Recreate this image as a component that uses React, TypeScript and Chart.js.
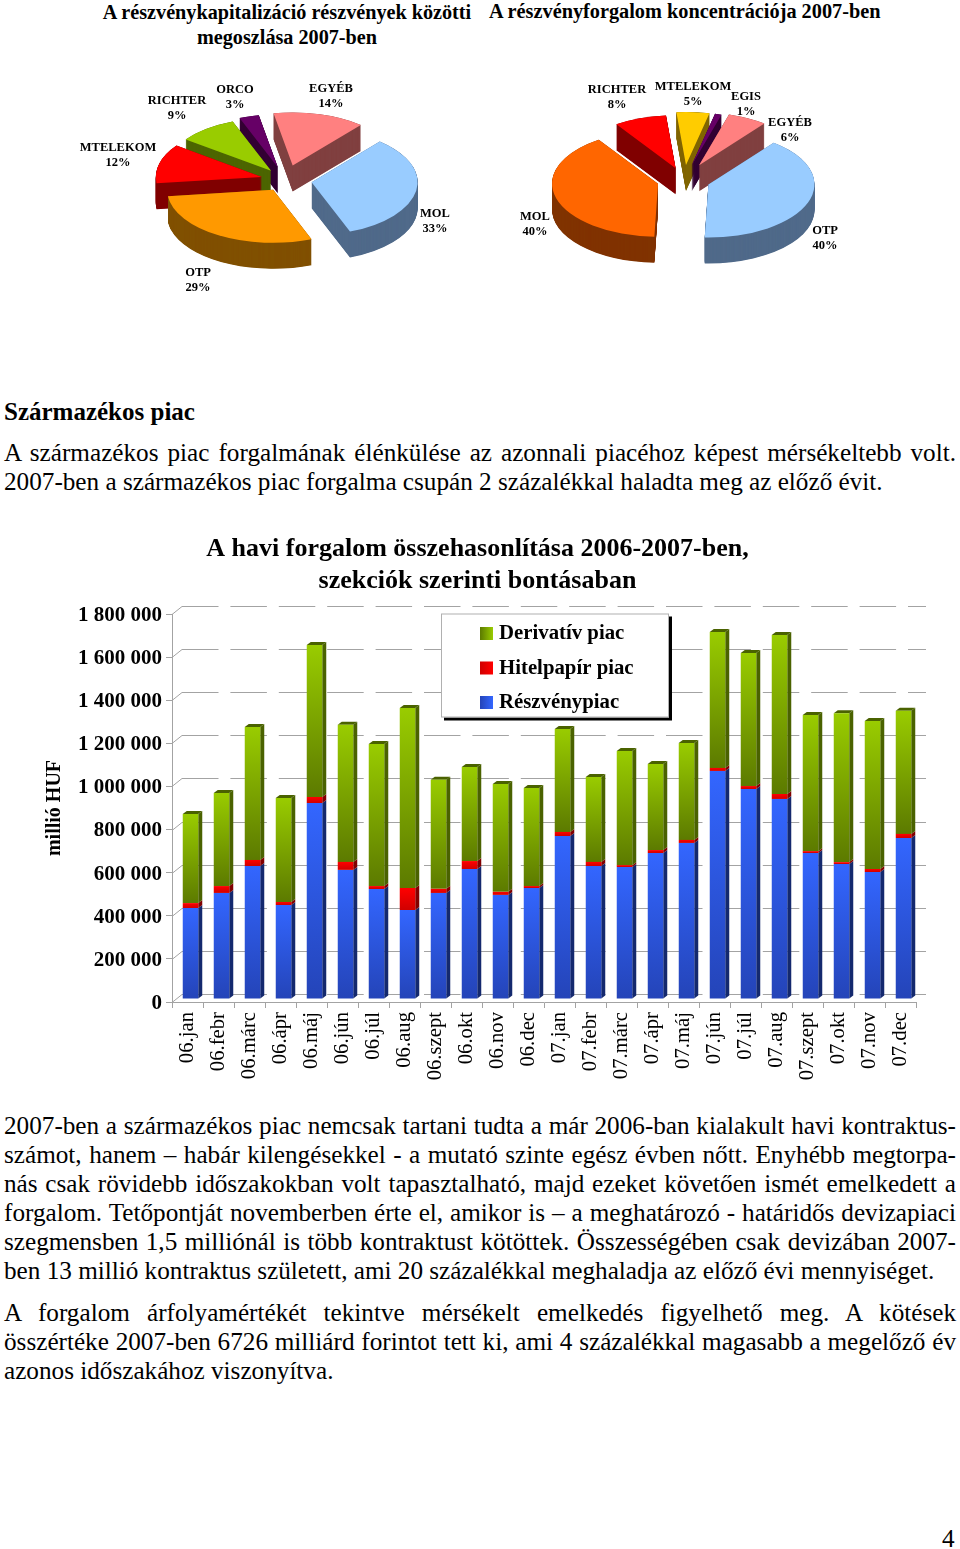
import React, { useEffect, useRef } from "react";
import { Chart, registerables } from "chart.js";

Chart.register(...registerables);

const FONT = '"Liberation Serif", "Times New Roman", serif';

// ---- Data ----
const CAP_LABELS = ["MOL", "OTP", "MTELEKOM", "RICHTER", "ORCO", "EGYÉB"];
const CAP_VALUES = [33, 29, 12, 9, 3, 14];
const CAP_COLORS = ["#99ccff", "#ff9900", "#ff0000", "#99cc00", "#660066", "#ff8080"];
const CAP_DEPTH = ["#506a8a", "#805000", "#800000", "#4d6600", "#330033", "#804040"];
const CAP_OFFSETS = [27, 23, 24, 23, 26, 30];
const CAP_LABEL_POS = [[435, 214], [198, 273], [118, 148], [177, 101], [235, 90], [331, 89]];

const TURN_LABELS = ["OTP", "MOL", "RICHTER", "MTELEKOM", "EGIS", "EGYÉB"];
const TURN_VALUES = [40, 40, 8, 5, 1, 6];
const TURN_COLORS = ["#99ccff", "#ff6600", "#ff0000", "#ffcc00", "#660066", "#ff8080"];
const TURN_DEPTH = ["#506a8a", "#803300", "#800000", "#806600", "#330033", "#804040"];
const TURN_OFFSETS = [26, 27, 25, 30, 30, 33];
const TURN_LABEL_POS = [[825, 231], [535, 217], [617, 90], [693, 87], [746, 97], [790, 123]];

const MONTHS = [
  "06.jan", "06.febr", "06.márc", "06.ápr", "06.máj", "06.jún", "06.júl", "06.aug", "06.szept", "06.okt", "06.nov", "06.dec",
  "07.jan", "07.febr", "07.márc", "07.ápr", "07.máj", "07.jún", "07.júl", "07.aug", "07.szept", "07.okt", "07.nov", "07.dec",
];
const EQUITY = [422000, 492000, 617000, 436000, 909000, 599000, 510000, 413000, 492000, 603000, 483000, 515000,
  756000, 617000, 612000, 677000, 724000, 1058000, 974000, 928000, 677000, 626000, 589000, 747000];
const DEBT = [23000, 32000, 28000, 14000, 28000, 37000, 14000, 102000, 19000, 37000, 14000, 9000,
  19000, 19000, 9000, 14000, 14000, 14000, 14000, 23000, 9000, 9000, 14000, 19000];
const DERIV = [413000, 432000, 617000, 483000, 705000, 636000, 659000, 835000, 506000, 436000, 501000, 455000,
  478000, 394000, 529000, 399000, 450000, 631000, 617000, 738000, 631000, 691000, 687000, 571000];

const BODY_TOP = [
  "A származékos piac forgalmának élénkülése az azonnali piacéhoz képest mérsékeltebb volt.",
  "2007-ben a származékos piac forgalma csupán 2 százalékkal haladta meg az előző évit.",
];
const BODY_BOTTOM = [
  "2007-ben a származékos piac nemcsak tartani tudta a már 2006-ban kialakult havi kontraktus-",
  "számot, hanem – habár kilengésekkel - a mutató szinte egész évben nőtt. Enyhébb megtorpa-",
  "nás csak rövidebb időszakokban volt tapasztalható, majd ezeket követően ismét emelkedett a",
  "forgalom. Tetőpontját novemberben érte el, amikor is – a meghatározó - határidős devizapiaci",
  "szegmensben 1,5 milliónál is több kontraktust kötöttek. Összességében csak devizában 2007-",
];
const BODY_BOTTOM_LAST = "ben 13 millió kontraktus született, ami 20 százalékkal meghaladja az előző évi mennyiséget.";
const BODY_PARA2 = [
  "A forgalom árfolyamértékét tekintve mérsékelt emelkedés figyelhető meg. A kötések",
  "összértéke 2007-ben 6726 milliárd forintot tett ki, ami 4 százalékkal magasabb a megelőző év",
];
const BODY_PARA2_LAST = "azonos időszakához viszonyítva.";

// ---- Pie ----
const SQUASH = 0.5;
const PIE_DEPTH = 26;

function makePiePlugin(depthColors: string[], offsets: number[], labelPos: number[][], labels: string[], values: number[], pageLeft: number, pageTop: number) {
  return {
    id: "pie3d",
    afterDatasetsUpdate(chart: any) {
      chart.getDatasetMeta(0).data.forEach((a: any, i: number) => {
        const mid = (a.startAngle + a.endAngle) / 2;
        a.x += Math.cos(mid) * offsets[i];
        a.y += Math.sin(mid) * offsets[i];
      });
    },
    beforeDatasetsDraw(chart: any) {
      const ctx = chart.ctx;
      const arcs = chart.getDatasetMeta(0).data;
      const cx = (chart.chartArea.left + chart.chartArea.right) / 2;
      const cy = (chart.chartArea.top + chart.chartArea.bottom) / 2;
      ctx.save();
      ctx.translate(cx, cy);
      ctx.scale(1, SQUASH);
      ctx.translate(-cx, -cy);
      const order = arcs
        .map((a: any, i: number) => ({ a, i, s: Math.sin((a.startAngle + a.endAngle) / 2) }))
        .sort((p: any, q: any) => p.s - q.s);
      for (const { a, i } of order) {
        ctx.fillStyle = depthColors[i];
        for (let d = PIE_DEPTH; d >= 0; d -= 0.5) {
          ctx.beginPath();
          ctx.moveTo(a.x, a.y + d / SQUASH);
          ctx.arc(a.x, a.y + d / SQUASH, a.outerRadius, a.startAngle, a.endAngle);
          ctx.closePath();
          ctx.fill();
        }
      }
    },
    afterDatasetsDraw(chart: any) {
      const ctx = chart.ctx;
      ctx.restore();
      ctx.save();
      ctx.fillStyle = "#000";
      ctx.font = `bold 12.5px ${FONT}`;
      ctx.textAlign = "center";
      ctx.textBaseline = "middle";
      labels.forEach((l, i) => {
        const [x, y] = labelPos[i];
        ctx.fillText(l, x - pageLeft, y - pageTop);
        ctx.fillText(`${values[i]}%`, x - pageLeft, y - pageTop + 15);
      });
      ctx.restore();
    },
  };
}

function Pie(props: { left: number; width: number; labels: string[]; values: number[]; colors: string[]; depth: string[]; offsets: number[]; pos: number[][]; rotation: number }) {
  const ref = useRef<HTMLCanvasElement>(null);
  useEffect(() => {
    const chart = new Chart(ref.current!, {
      type: "pie",
      data: {
        labels: props.labels,
        datasets: [{
          data: props.values,
          backgroundColor: props.colors,
          borderWidth: 0,
          radius: 106,
        } as any],
      },
      options: {
        responsive: false,
        animation: false,
        rotation: props.rotation,
        events: [],
        plugins: { legend: { display: false }, tooltip: { enabled: false } },
      },
      plugins: [makePiePlugin(props.depth, props.offsets, props.pos, props.labels, props.values, props.left, 60)],
    } as any);
    return () => chart.destroy();
  }, []);
  return <canvas ref={ref} width={props.width} height={240} style={{ position: "absolute", left: props.left, top: 60, width: props.width, height: 240 }} />;
}

// ---- Bars ----
const BAR_SHIFT_X = 3;
const BAR_SHIFT_Y = -3;
const SIDE_X = 4;
const SIDE_Y = -3;
const WALL_X = 10;
const WALL_Y = -8;
const GRID = "#a3a3a3";

const SERIES = [
  { label: "Részvénypiac", data: EQUITY, top: "#3366ff", bottom: "#2444b8", side: "#14296e" },
  { label: "Hitelpapír piac", data: DEBT, top: "#ff0000", bottom: "#d00000", side: "#800000" },
  { label: "Derivatív piac", data: DERIV, top: "#99cc00", bottom: "#5c7a00", side: "#4a6200" },
];

const bar3d = {
  id: "bar3d",
  beforeDatasetsDraw(chart: any) {
    const ctx = chart.ctx;
    const { left, right } = chart.chartArea;
    const y = chart.scales.y;
    ctx.save();
    ctx.strokeStyle = GRID;
    ctx.lineWidth = 1;
    y.ticks.forEach((t: any) => {
      const py = Math.round(y.getPixelForValue(t.value)) + 0.5;
      ctx.setLineDash([]);
      ctx.beginPath();
      ctx.moveTo(left, py);
      ctx.lineTo(left + WALL_X, py + WALL_Y);
      ctx.stroke();
      ctx.setLineDash([36.5, 11.9]);
      ctx.beginPath();
      ctx.moveTo(left + WALL_X, py + WALL_Y);
      ctx.lineTo(right + WALL_X, py + WALL_Y);
      ctx.stroke();
    });
    ctx.setLineDash([]);
    ctx.restore();

    ctx.save();
    ctx.translate(BAR_SHIFT_X, BAR_SHIFT_Y);
    const n = chart.data.datasets.length;
    for (let di = 0; di < n; di++) {
      const meta = chart.getDatasetMeta(di);
      ctx.fillStyle = SERIES[di].side;
      meta.data.forEach((b: any) => {
        const r = b.x + b.width / 2;
        const l = b.x - b.width / 2;
        ctx.beginPath();
        ctx.moveTo(r, b.base);
        ctx.lineTo(r + SIDE_X, b.base + SIDE_Y);
        ctx.lineTo(r + SIDE_X, b.y + SIDE_Y);
        ctx.lineTo(r, b.y);
        ctx.closePath();
        ctx.fill();
        if (di === n - 1) {
          ctx.beginPath();
          ctx.moveTo(l, b.y);
          ctx.lineTo(l + SIDE_X, b.y + SIDE_Y);
          ctx.lineTo(r + SIDE_X, b.y + SIDE_Y);
          ctx.lineTo(r, b.y);
          ctx.closePath();
          ctx.fill();
        }
      });
    }
  },
  afterDatasetsDraw(chart: any) {
    const ctx = chart.ctx;
    ctx.restore();
    // legend box
    const boxX = 441, boxY = 83.5, boxW = 228, boxH = 104;
    ctx.save();
    ctx.fillStyle = "#000";
    ctx.fillRect(boxX + 3, boxY + 3, boxW, boxH);
    ctx.fillStyle = "#fff";
    ctx.fillRect(boxX, boxY, boxW, boxH);
    ctx.strokeStyle = "#b0b0b0";
    ctx.lineWidth = 1;
    ctx.strokeRect(boxX + 0.5, boxY + 0.5, boxW - 1, boxH - 1);
    const rows = [...SERIES].reverse();
    ctx.font = `bold 20.8px ${FONT}`;
    ctx.textBaseline = "middle";
    ctx.textAlign = "left";
    rows.forEach((s, i) => {
      const cy = boxY + 20.5 + i * 34.5;
      const g = ctx.createLinearGradient(480, 0, 493, 0);
      g.addColorStop(0, s.bottom);
      g.addColorStop(1, s.top);
      ctx.fillStyle = g;
      ctx.fillRect(480, cy - 7, 13, 13);
      ctx.fillStyle = "#000";
      ctx.fillText(s.label, 499, cy);
    });
    ctx.restore();
  },
};

function Bars() {
  const ref = useRef<HTMLCanvasElement>(null);
  useEffect(() => {
    const chart = new Chart(ref.current!, {
      type: "bar",
      data: {
        labels: MONTHS,
        datasets: SERIES.map((s, di) => ({
          label: s.label,
          data: s.data,
          barPercentage: 0.5,
          categoryPercentage: 1,
          borderWidth: 0,
          backgroundColor: (c: any) => {
            const sc = c.chart.scales?.y;
            if (!sc || c.dataIndex === undefined) return s.top;
            let lo = 0;
            for (let k = 0; k < di; k++) lo += SERIES[k].data[c.dataIndex];
            const hi = lo + s.data[c.dataIndex];
            const y0 = sc.getPixelForValue(hi);
            const y1 = sc.getPixelForValue(lo);
            if (!Number.isFinite(y0) || !Number.isFinite(y1)) return s.top;
            const g = c.chart.ctx.createLinearGradient(0, y0, 0, y1);
            g.addColorStop(0, s.top);
            g.addColorStop(1, s.bottom);
            return g;
          },
        })),
      },
      options: {
        responsive: false,
        animation: false,
        events: [],
        layout: { padding: { left: 39, right: 39, top: 0, bottom: 0 } },
        plugins: {
          legend: { display: false },
          tooltip: { enabled: false },
          title: {
            display: true,
            text: ["A havi forgalom összehasonlítása 2006-2007-ben,", "szekciók szerinti bontásaban"],
            color: "#000",
            font: { family: FONT, size: 26, weight: "bold", lineHeight: 1.2308 },
            padding: { top: 3, bottom: 17 },
          },
        },
        scales: {
          x: {
            stacked: true,
            afterFit: (s: any) => { s.height = 88; },
            grid: { display: true, drawOnChartArea: false, drawTicks: true, tickLength: 6, color: GRID, offset: true },
            border: { display: true, color: GRID, width: 1 },
            ticks: {
              autoSkip: false, minRotation: 90, maxRotation: 90, padding: 4, color: "#000",
              font: { family: FONT, size: 20.7 },
            },
          },
          y: {
            stacked: true,
            min: 0,
            max: 1800000,
            afterFit: (s: any) => { s.width = 133; },
            title: { display: true, text: "millió HUF", color: "#000", padding: { top: 4, bottom: 0 }, font: { family: FONT, size: 20, weight: "bold", lineHeight: 1.2 } },
            grid: { display: true, drawOnChartArea: false, drawTicks: true, tickLength: 6, color: GRID },
            border: { display: true, color: GRID, width: 1 },
            ticks: {
              stepSize: 200000, padding: 4, color: "#000", labelOffset: 1.5,
              font: { family: FONT, size: 21, weight: "bold" },
              callback: (v: any) => String(v).replace(/\B(?=(\d{3})+(?!\d))/g, " "),
            },
          },
        },
      },
      plugins: [bar3d],
    } as any);
    return () => chart.destroy();
  }, []);
  return <canvas ref={ref} width={955} height={560} style={{ position: "absolute", left: 0, top: 530, width: 955, height: 560 }} />;
}

function Line(p: { y: number; text: string; justify?: boolean; left?: number; width?: number; bold?: boolean; size?: number; center?: boolean }) {
  const size = p.size ?? 25.2;
  const style: React.CSSProperties = {
    position: "absolute",
    left: p.left ?? 4,
    top: p.y - 15,
    height: 30,
    lineHeight: "30px",
    width: p.width ?? 952,
    fontSize: size,
    fontWeight: p.bold ? "bold" : "normal",
    whiteSpace: p.justify ? "normal" : "nowrap",
    textAlign: p.center ? "center" : p.justify ? "justify" : "left",
    textAlignLast: p.center ? "center" : p.justify ? "justify" : "left",
    color: "#000",
  };
  return <div style={style}>{p.text}</div>;
}

export default function App() {
  return (
    <div style={{ position: "absolute", left: 0, top: 0, width: 960, height: 1549, overflow: "hidden", background: "#fff", fontFamily: FONT }}>
      <Line y={12} text="A részvénykapitalizáció részvények közötti" bold size={20.2} left={87} width={400} center />
      <Line y={37} text="megoszlása 2007-ben" bold size={20.2} left={87} width={400} center />
      <Line y={11} text="A részvényforgalom koncentrációja 2007-ben" bold size={20.3} left={489} width={420} />
      <Pie left={0} width={570} labels={CAP_LABELS} values={CAP_VALUES} colors={CAP_COLORS} depth={CAP_DEPTH} offsets={CAP_OFFSETS} pos={CAP_LABEL_POS} rotation={40} />
      <Pie left={414} width={540} labels={TURN_LABELS} values={TURN_VALUES} colors={TURN_COLORS} depth={TURN_DEPTH} offsets={TURN_OFFSETS} pos={TURN_LABEL_POS} rotation={38} />
      <Line y={412} text="Származékos piac" bold size={25} />
      <Line y={453} text={BODY_TOP[0]} justify />
      <Line y={482} text={BODY_TOP[1]} />
      <Bars />
      {BODY_BOTTOM.map((t, i) => <Line key={t} y={1126 + i * 29} text={t} justify />)}
      <Line y={1271} text={BODY_BOTTOM_LAST} />
      {BODY_PARA2.map((t, i) => <Line key={t} y={1313 + i * 29} text={t} justify />)}
      <Line y={1371} text={BODY_PARA2_LAST} />
      <Line y={1539} text="4" left={942} width={14} />
    </div>
  );
}
